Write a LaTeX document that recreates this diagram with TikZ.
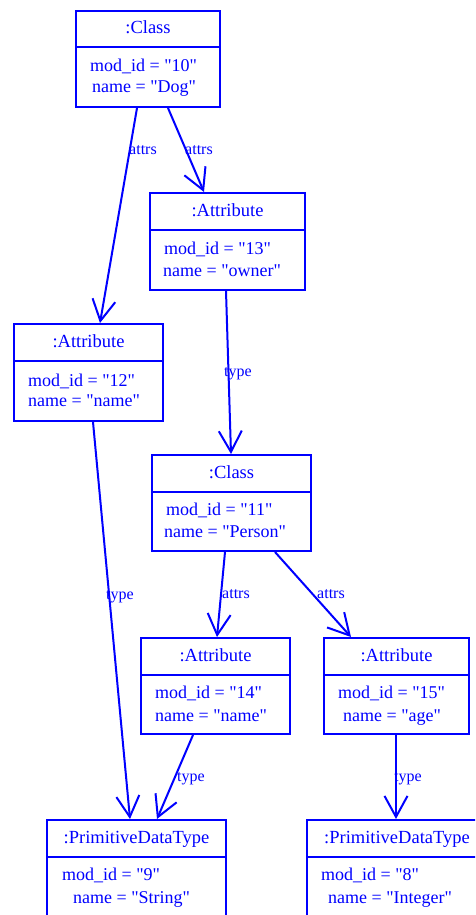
\documentclass[tikz,border=0pt]{standalone}
\usepackage{fontspec}
\setmainfont{Liberation Serif}[Ligatures=TeXOff]
\usetikzlibrary{arrows.meta}
\definecolor{umlblue}{RGB}{0,0,255}
\newcommand{\dq}{\symbol{34}}
\tikzset{
  objbox/.style={draw=umlblue, line width=2pt, anchor=north west, inner sep=0pt, rectangle},
  divider/.style={draw=umlblue, line width=2pt},
  hdr/.style={text=umlblue, anchor=center, inner sep=0pt, text height=11pt, text depth=0pt, font=\fontsize{18.5}{22}\selectfont},
  attr/.style={text=umlblue, anchor=base west, inner sep=0pt, font=\fontsize{18}{22}\selectfont},
  elbl/.style={text=umlblue, anchor=base west, inner sep=0pt, font=\fontsize{16}{19}\selectfont},
  conn/.style={draw=umlblue, line width=2pt, -{Straight Barb[length=21pt,width=23pt]}}
}
\begin{document}
\begin{tikzpicture}[x=1pt,y=-1pt]
\useasboundingbox (0,0) rectangle (475,915);
\clip (0,0) rectangle (475,915);
% boxes
\node[objbox, minimum width=144pt, minimum height=96pt] (b1) at (75,10) {};
\node[objbox, minimum width=155pt, minimum height=97pt] (b2) at (149,192) {};
\node[objbox, minimum width=149pt, minimum height=97pt] (b3) at (13,323) {};
\node[objbox, minimum width=159pt, minimum height=96pt] (b4) at (151,454) {};
\node[objbox, minimum width=149pt, minimum height=96pt] (b5) at (140,637) {};
\node[objbox, minimum width=145pt, minimum height=96pt] (b6) at (323,637) {};
\node[objbox, minimum width=179pt, minimum height=110pt] (b7) at (46,819) {};
\node[objbox, minimum width=180pt, minimum height=110pt] (b8) at (306,819) {};
% dividers
\foreach \b in {b1,b2,b3,b4,b5,b6,b7,b8}{
  \draw[divider] ([yshift=-37.5pt]\b.north west) -- ([yshift=-37.5pt]\b.north east);
}
% headers
\node[hdr] (h1) at ([yshift=-18.5pt]b1.north) {:Class};
\node[hdr] (h2) at ([yshift=-18.5pt]b2.north) {:Attribute};
\node[hdr] (h3) at ([yshift=-18.5pt]b3.north) {:Attribute};
\node[hdr] (h4) at ([yshift=-18.5pt]b4.north) {:Class};
\node[hdr] (h5) at ([yshift=-18.5pt]b5.north) {:Attribute};
\node[hdr] (h6) at ([yshift=-18.5pt]b6.north) {:Attribute};
\node[hdr] (h7) at ([yshift=-18.5pt]b7.north) {:PrimitiveDataType};
\node[hdr] (h8) at ([yshift=-18.5pt]b8.north) {:PrimitiveDataType};
% attributes
\node[attr] (a1a) at (90,71.5) {mod\_id = \dq10\dq};
\node[attr] (a1b) at (92,93) {name = \dq Dog\dq};
\node[attr] (a2a) at (164,254.5) {mod\_id = \dq13\dq};
\node[attr] (a2b) at (163,276.5) {name = \dq owner\dq};
\node[attr] (a3a) at (28,386.5) {mod\_id = \dq12\dq};
\node[attr] (a3b) at (28,406.5) {name = \dq name\dq};
\node[attr] (a4a) at (166,515.5) {mod\_id = \dq11\dq};
\node[attr] (a4b) at (164,537.5) {name = \dq Person\dq};
\node[attr] (a5a) at (155,698.5) {mod\_id = \dq14\dq};
\node[attr] (a5b) at (155,721.5) {name = \dq name\dq};
\node[attr] (a6a) at (338,698.5) {mod\_id = \dq15\dq};
\node[attr] (a6b) at (343,721.5) {name = \dq age\dq};
\node[attr] (a7a) at (62,880.5) {mod\_id = \dq9\dq};
\node[attr] (a7b) at (73,903.5) {name = \dq String\dq};
\node[attr] (a8a) at (321,880.5) {mod\_id = \dq8\dq};
\node[attr] (a8b) at (328,903.5) {name = \dq Integer\dq};
% connectors
\draw[conn] ([xshift=62pt]b1.south west) -- ([xshift=87pt]b3.north west);
\draw[conn] ([xshift=93pt]b1.south west) -- ([xshift=55pt]b2.north west);
\draw[conn] ([xshift=77pt]b2.south west) -- ([xshift=80pt]b4.north west);
\draw[conn] ([xshift=80pt]b3.south west) -- ([xshift=84pt]b7.north west);
\draw[conn] ([xshift=74pt]b4.south west) -- ([xshift=77pt]b5.north west);
\draw[conn] ([xshift=124pt]b4.south west) -- ([xshift=28pt]b6.north west);
\draw[conn] ([xshift=53pt]b5.south west) -- ([xshift=111pt]b7.north west);
\draw[conn] ([xshift=73pt]b6.south west) -- ([xshift=90pt]b8.north west);
% connector labels
\node[elbl] (l1) at (129,154.5) {attrs};
\node[elbl] (l2) at (185,154.5) {attrs};
\node[elbl] (l3) at (224,376.5) {type};
\node[elbl] (l4) at (106,599.5) {type};
\node[elbl] (l5) at (222,598.5) {attrs};
\node[elbl] (l6) at (317,598.5) {attrs};
\node[elbl] (l7) at (177,781.5) {type};
\node[elbl] (l8) at (394,781.5) {type};
\end{tikzpicture}
\end{document}
